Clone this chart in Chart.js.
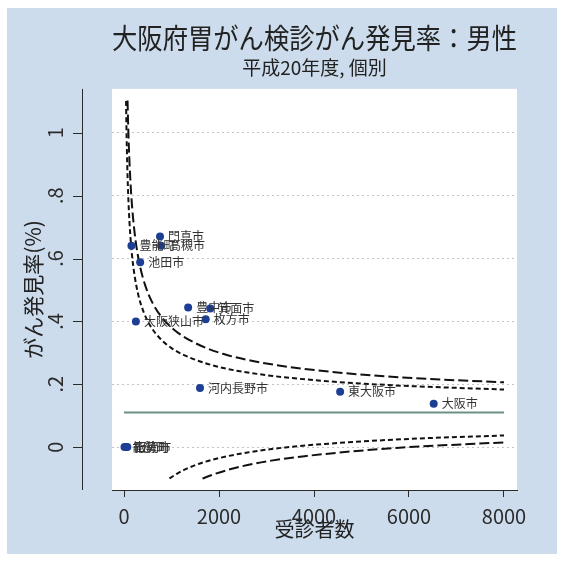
<!DOCTYPE html>
<html lang="ja">
<head>
<meta charset="utf-8">
<title>大阪府胃がん検診がん発見率：男性</title>
<script src="https://cdn.jsdelivr.net/npm/chart.js@4/dist/chart.umd.min.js"></script>
<style>
  html, body { margin: 0; padding: 0; background: #ffffff; }
  #c { display: block; }
</style>
</head>
<body>
<canvas id="c" width="565" height="562"></canvas>
<script>
// 市区町村別：受診者数と胃がん発見率(%)
const cityNames = ['門真市', '豊能町', '高槻市', '池田市', '豊中市', '箕面市', '枚方市',
                   '大阪狭山市', '河内長野市', '東大阪市', '大阪市', '能勢町', '田尻町', '阪南市'];
const screened = [758, 156, 780, 340, 1350, 1815, 1720, 250, 1600, 4550, 6520, 10, 40, 70];
const detectionRate = [0.670, 0.641, 0.641, 0.588, 0.444, 0.441, 0.407, 0.400, 0.188, 0.176, 0.138, 0, 0, 0];

// 府全体の発見率（平均）
const meanRate = 0.110;
const meanRange = [0, 8000];

// 管理限界（95%：上限・下限）
const upper95N = [43, 50, 60, 75, 100, 130, 170, 220, 300, 400, 550, 750, 1000, 1400, 2000, 2800, 4000, 5500, 8000];
const upper95 = [1.101, 1.029, 0.949, 0.860, 0.760, 0.680, 0.608, 0.548, 0.485, 0.435, 0.387, 0.347, 0.315, 0.284, 0.255, 0.233, 0.213, 0.198, 0.183];
const lower95N = [957, 1100, 1300, 1600, 2000, 2600, 3400, 4500, 6000, 8000];
const lower95 = [-0.100, -0.086, -0.070, -0.052, -0.035, -0.017, -0.001, 0.013, 0.026, 0.037];

// 管理限界（99%：上限・下限）
const upper99N = [74, 85, 100, 120, 150, 190, 250, 330, 450, 600, 800, 1100, 1500, 2100, 3000, 4200, 5800, 8000];
const upper99 = [1.103, 1.036, 0.964, 0.890, 0.807, 0.730, 0.650, 0.580, 0.513, 0.459, 0.412, 0.368, 0.331, 0.296, 0.266, 0.242, 0.222, 0.206];
const lower99N = [1653, 1900, 2200, 2600, 3100, 3800, 4700, 5800, 8000];
const lower99 = [-0.100, -0.086, -0.072, -0.057, -0.043, -0.029, -0.015, -0.002, 0.015];

// 軸の目盛り
const xTickValues = [0, 2000, 4000, 6000, 8000];
const yTickValues = [0, 0.2, 0.4, 0.6, 0.8, 1];
const yTickLabels = ['0', '.2', '.4', '.6', '.8', '1'];

const FONT = "'Noto Sans CJK JP', 'Noto Sans', sans-serif";
const INK = '#2b2b2b';

const toXY = (xs, ys) => xs.map((x, i) => ({ x: x, y: ys[i] }));

// 背景：外枠の淡い青と白いプロット領域
const backgroundPlugin = {
  id: 'panelBackground',
  beforeDraw(chart) {
    const { ctx, chartArea: a, width, height } = chart;
    ctx.save();
    ctx.fillStyle = '#ffffff';
    ctx.fillRect(0, 0, width, height);
    ctx.fillStyle = '#ccdcec';
    ctx.fillRect(7, 8, width - 15, height - 16);
    ctx.fillStyle = '#ffffff';
    ctx.fillRect(a.left, a.top, a.right - a.left, a.bottom - a.top);
    ctx.restore();
  }
};

// 縦軸の軸線と目盛り線（プロット領域から離して描く）
const yAxisLinePlugin = {
  id: 'offsetYAxis',
  afterDraw(chart) {
    const { ctx, chartArea: a } = chart;
    const ys = chart.scales.y;
    const axisX = a.left - 30;
    ctx.save();
    ctx.strokeStyle = INK;
    ctx.lineWidth = 1;
    ctx.beginPath();
    ctx.moveTo(axisX + 0.5, a.top);
    ctx.lineTo(axisX + 0.5, a.bottom);
    ys.ticks.forEach(t => {
      const py = Math.round(ys.getPixelForValue(t.value)) + 0.5;
      ctx.moveTo(axisX - 9, py);
      ctx.lineTo(axisX + 0.5, py);
    });
    ctx.stroke();
    ctx.restore();
  }
};

// 各点の右側に市町村名
const pointLabelPlugin = {
  id: 'cityLabels',
  afterDatasetsDraw(chart) {
    const { ctx } = chart;
    const meta = chart.getDatasetMeta(0);
    ctx.save();
    ctx.font = "12px " + FONT;
    ctx.fillStyle = '#333333';
    ctx.textAlign = 'left';
    ctx.textBaseline = 'middle';
    meta.data.forEach((el, i) => {
      ctx.fillText(cityNames[i], el.x + 8, el.y);
    });
    ctx.restore();
  }
};

const limitLine = (data, dash) => ({
  type: 'scatter',
  data: data,
  showLine: true,
  borderColor: '#111111',
  borderWidth: 2,
  borderDash: dash,
  pointRadius: 0,
  cubicInterpolationMode: 'monotone',
  fill: false
});

new Chart(document.getElementById('c'), {
  type: 'scatter',
  data: {
    datasets: [
      {
        label: '発見率',
        data: toXY(screened, detectionRate),
        pointRadius: 4,
        pointHoverRadius: 4,
        backgroundColor: '#1d3f93',
        borderColor: '#1d3f93',
        borderWidth: 0
      },
      limitLine(toXY(upper95N, upper95), [5, 3]),
      limitLine(toXY(lower95N, lower95), [5, 3]),
      limitLine(toXY(upper99N, upper99), [10, 4]),
      limitLine(toXY(lower99N, lower99), [10, 4]),
      {
        type: 'scatter',
        data: toXY(meanRange, [meanRate, meanRate]),
        showLine: true,
        borderColor: '#6b9283',
        borderWidth: 2,
        pointRadius: 0
      }
    ]
  },
  options: {
    responsive: false,
    animation: false,
    devicePixelRatio: 1,
    layout: { padding: { left: 0, right: 48, top: 0, bottom: 0 } },
    plugins: {
      legend: { display: false },
      tooltip: { enabled: false },
      title: {
        display: true,
        fullSize: false,
        text: '大阪府胃がん検診がん発見率：男性',
        color: '#222222',
        font: { family: FONT, size: 28.5, weight: 'normal', lineHeight: 1.2 },
        padding: { top: 20.9, bottom: 1.4 }
      },
      subtitle: {
        display: true,
        fullSize: false,
        text: '平成20年度, 個別',
        color: '#222222',
        font: { family: FONT, size: 19, weight: 'normal', lineHeight: 1.2 },
        padding: { top: 0, bottom: 9.6 }
      }
    },
    scales: {
      x: {
        type: 'linear',
        min: -253,
        max: 8274,
        afterBuildTicks: s => { s.ticks = xTickValues.map(v => ({ value: v })); },
        afterFit: s => { s.height = 72; },
        ticks: {
          color: INK,
          font: { family: FONT, size: 20 },
          padding: 7,
          maxRotation: 0,
          callback: v => String(v)
        },
        grid: {
          drawOnChartArea: false,
          drawTicks: true,
          tickLength: 7,
          tickColor: INK,
          tickWidth: 1
        },
        border: { display: true, color: INK, width: 1 },
        title: {
          display: true,
          text: '受診者数',
          color: '#222222',
          font: { family: FONT, size: 20, lineHeight: 1.2 },
          padding: { top: 0, bottom: 21 }
        }
      },
      y: {
        type: 'linear',
        min: -0.1365,
        max: 1.1397,
        afterBuildTicks: s => { s.ticks = yTickValues.map(v => ({ value: v })); },
        afterFit: s => { s.width = 112; },
        ticks: {
          color: INK,
          font: { family: FONT, size: 20 },
          minRotation: 90,
          maxRotation: 90,
          crossAlign: 'center',
          padding: 48,
          callback: (v, i) => yTickLabels[i]
        },
        grid: {
          drawOnChartArea: true,
          drawTicks: false,
          color: '#c4c4c4',
          lineWidth: 1
        },
        border: { display: false, dash: [2, 3] },
        title: {
          display: true,
          text: 'がん発見率(%)',
          color: '#222222',
          font: { family: FONT, size: 21, lineHeight: 1.2 },
          padding: { top: 20.4, bottom: 0 }
        }
      }
    }
  },
  plugins: [backgroundPlugin, yAxisLinePlugin, pointLabelPlugin]
});
</script>
</body>
</html>
